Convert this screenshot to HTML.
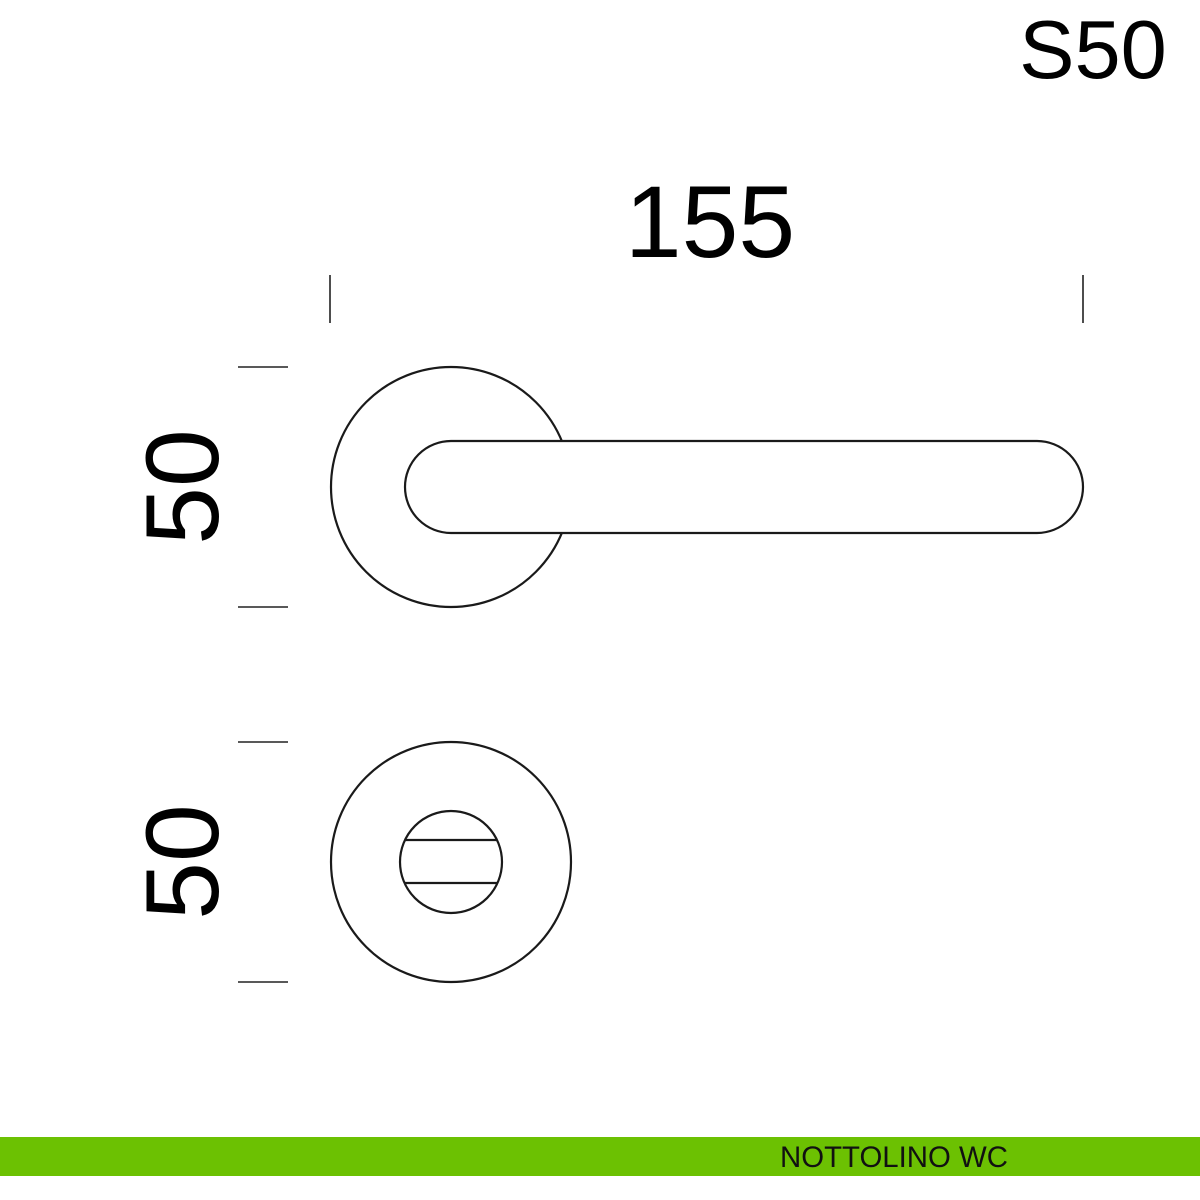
<!DOCTYPE html>
<html><head><style>html,body{margin:0;padding:0;background:#fff;}svg{display:block}</style></head>
<body>
<svg width="1200" height="1200" viewBox="0 0 1200 1200" xmlns="http://www.w3.org/2000/svg">
<rect width="1200" height="1200" fill="#fff"/>
<g fill="none" stroke="#222" stroke-width="1.6">
<line x1="330" y1="275" x2="330" y2="323"/>
<line x1="1083" y1="275" x2="1083" y2="323"/>
<line x1="238" y1="367" x2="288" y2="367"/>
<line x1="238" y1="607" x2="288" y2="607"/>
<line x1="238" y1="742" x2="288" y2="742"/>
<line x1="238" y1="982" x2="288" y2="982"/>
</g>
<g stroke="#1a1a1a" stroke-width="2.2">
<circle cx="451" cy="487" r="120" fill="#fff"/>
<path d="M451 441 H1037 A46 46 0 0 1 1037 533 H451 A46 46 0 0 1 451 441 Z" fill="#fff"/>
<circle cx="451" cy="862" r="120" fill="#fff"/>
<circle cx="451" cy="862" r="51" fill="#fff"/>
<line x1="405" y1="840" x2="497" y2="840"/>
<line x1="405" y1="883" x2="497" y2="883"/>
</g>
<g font-family="Liberation Sans, sans-serif" fill="#000">
<text x="1093" y="78" font-size="83" text-anchor="middle">S50</text>
<text x="710" y="257" font-size="102" text-anchor="middle">155</text>
<text transform="translate(218,487) rotate(-90)" font-size="104" text-anchor="middle">50</text>
<text transform="translate(218,862) rotate(-90)" font-size="104" text-anchor="middle">50</text>
</g>
<rect x="0" y="1137" width="1200" height="39" fill="#6cc102"/>
<text x="780" y="1167" font-family="Liberation Sans, sans-serif" font-size="30" textLength="228" lengthAdjust="spacingAndGlyphs" fill="#111">NOTTOLINO WC</text>
</svg>
</body></html>
